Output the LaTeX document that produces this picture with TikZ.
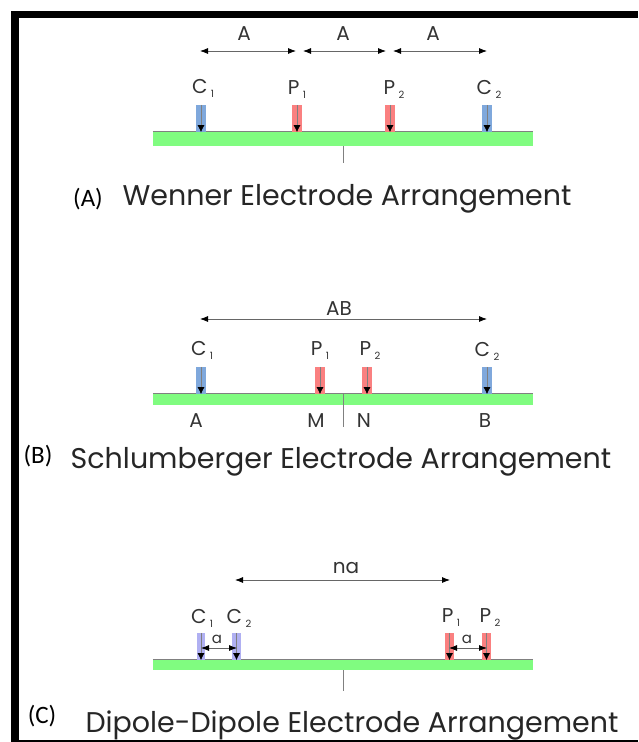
\documentclass[tikz,border=0pt]{standalone}
\usepackage{fontspec}
\setmainfont{Poppins}
\newfontfamily\tagfont{Carlito}
\usetikzlibrary{arrows.meta}
\definecolor{groundgreen}{HTML}{80FC80}
\definecolor{currentblue}{HTML}{7FA8DC}
\definecolor{dipoleblue}{HTML}{B0B0F2}
\definecolor{potentialred}{HTML}{FA8080}
\newcommand{\elab}[2]{#1\,\raisebox{-4pt}{\fontsize{10}{10}\selectfont #2}}
\tikzset{
  groundbar/.style={fill=groundgreen,minimum width=380pt,inner sep=0pt},
  electrode/.style={minimum width=9.5pt,minimum height=27pt,inner sep=0pt},
  stake/.style={draw=gray,line width=0.8pt,-{Latex[black,length=7pt,width=7pt]}},
  span/.style={draw=gray!80!black,line width=0.8pt,{Latex[black,length=8pt,width=6pt]}-{Latex[black,length=8pt,width=6pt]}},
  tick/.style={draw=gray,line width=0.9pt},
  topline/.style={draw=gray,line width=0.8pt},
  lab/.style={inner sep=0pt,font=\fontsize{20}{20}\selectfont,text=black!80},
  small lab/.style={lab,font=\fontsize{15}{15}\selectfont},
  caption/.style={inner sep=0pt,text=black!85,font=\fontsize{28.5}{28.5}\selectfont},
  tag/.style={inner sep=0pt,font=\tagfont\fontsize{25}{25}\selectfont,text=black}
}
\begin{document}
\begin{tikzpicture}[x=1pt,y=-1pt]
  \useasboundingbox (0,0) rectangle (638,742);
  % frame
  \fill[black] (11,11) rectangle (638,18);
  \fill[black] (11,11) rectangle (19,742);
  \fill[black] (11,740) rectangle (638,742);

  % Wenner
  \node[groundbar,minimum height=14pt] (bara) at (343,139) {};
  \draw[topline] (bara.north west) -- (bara.north east);
  \coordinate (ticka) at (343,163);
  \draw[tick] (bara.south -| ticka) -- (ticka);
  \node[electrode,fill=currentblue] (cia) at (201,118.5) {};
  \node[electrode,fill=potentialred] (pia) at (297,118.5) {};
  \node[electrode,fill=potentialred] (piia) at (390,118.5) {};
  \node[electrode,fill=currentblue] (ciia) at (487,118.5) {};
  \draw[stake] (cia.north) -- (cia.south);
  \draw[stake] (pia.north) -- (pia.south);
  \draw[stake] (piia.north) -- (piia.south);
  \draw[stake] (ciia.north) -- (ciia.south);
  \node[lab] (lcia) at (203,88) {\elab{C}{1}};
  \node[lab] (lpia) at (297,90) {\elab{P}{1}};
  \node[lab] (lpiia) at (394,90) {\elab{P}{2}};
  \node[lab] (lciia) at (489,89) {\elab{C}{2}};
  \coordinate (s1) at (200,51); \coordinate (s2) at (296,51);
  \coordinate (s3) at (303,51); \coordinate (s4) at (386,51);
  \coordinate (s5) at (393,51); \coordinate (s6) at (487,51);
  \draw[span] (s1) -- (s2);
  \draw[span] (s3) -- (s4);
  \draw[span] (s5) -- (s6);
  \node[lab] (aone) at (244,34) {A};
  \node[lab] (atwo) at (343,34) {A};
  \node[lab] (athree) at (433,34) {A};
  \node[tag] (taga) at (88,199) {(A)};
  \node[caption] (capa) at (347,199) {Wenner Electrode Arrangement};

  % Schlumberger
  \node[groundbar,minimum height=11pt] (barb) at (343,399.5) {};
  \draw[topline] (barb.north west) -- (barb.north east);
  \coordinate (tickbtop) at (343.5,394);
  \coordinate (tickb) at (343.5,427);
  \draw[tick] (tickbtop) -- (tickb);
  \node[electrode,fill=currentblue] (cib) at (201,380.5) {};
  \node[electrode,fill=potentialred] (pib) at (320,380.5) {};
  \node[electrode,fill=potentialred] (piib) at (367,380.5) {};
  \node[electrode,fill=currentblue] (ciib) at (487,380.5) {};
  \draw[stake] (cib.north) -- (cib.south);
  \draw[stake] (pib.north) -- (pib.south);
  \draw[stake] (piib.north) -- (piib.south);
  \draw[stake] (ciib.north) -- (ciib.south);
  \node[lab] (lcib) at (202,350) {\elab{C}{1}};
  \node[lab] (lpib) at (320,351) {\elab{P}{1}};
  \node[lab] (lpiib) at (370,351) {\elab{P}{2}};
  \node[lab] (lciib) at (487,351) {\elab{C}{2}};
  \node[lab] (ma) at (196,421) {A};
  \node[lab] (mm) at (316,421) {M};
  \node[lab] (mn) at (364,421) {N};
  \node[lab] (mb) at (485,421) {B};
  \coordinate (s7) at (200,319); \coordinate (s8) at (487,319);
  \draw[span] (s7) -- (s8);
  \node[lab] (ab) at (339,309) {AB};
  \node[tag] (tagb) at (38,456) {(B)};
  \node[caption] (capb) at (341,462) {Schlumberger Electrode Arrangement};

  % Dipole-Dipole
  \node[groundbar,minimum height=10pt] (barc) at (343,665) {};
  \draw[topline] (barc.north west) -- (barc.north east);
  \coordinate (tickc) at (343.5,691);
  \draw[tick] (barc.south -| tickc) -- (tickc);
  \node[electrode,minimum width=8.5pt,fill=dipoleblue] (cic) at (201,646.5) {};
  \node[electrode,minimum width=8.5pt,fill=dipoleblue] (ciic) at (236.5,646.5) {};
  \node[electrode,minimum width=8.5pt,fill=potentialred] (pic) at (449.5,646.5) {};
  \node[electrode,minimum width=8.5pt,fill=potentialred] (piic) at (486.5,646.5) {};
  \draw[stake] (cic.north) -- (cic.south);
  \draw[stake] (ciic.north) -- (ciic.south);
  \draw[stake] (pic.north) -- (pic.south);
  \draw[stake] (piic.north) -- (piic.south);
  \node[lab] (lcic) at (202,618) {\elab{C}{1}};
  \node[lab] (lciic) at (239,618) {\elab{C}{2}};
  \node[lab] (lpic) at (451,618) {\elab{P}{1}};
  \node[lab] (lpiic) at (490,618) {\elab{P}{2}};
  \coordinate (s9) at (235,580); \coordinate (s10) at (450,580);
  \draw[span] (s9) -- (s10);
  \node[lab] (na) at (346,568) {na};
  \coordinate (s11) at (201,648); \coordinate (s12) at (237,648);
  \coordinate (s13) at (449,648); \coordinate (s14) at (487,648);
  \draw[span] (s11) -- (s12);
  \draw[span] (s13) -- (s14);
  \node[small lab] (ac) at (217,639) {a};
  \node[small lab] (ap) at (467,639) {a};
  \node[tag] (tagc) at (42,716) {(C)};
  \node[caption] (capc) at (352,725) {Dipole-Dipole Electrode Arrangement};
\end{tikzpicture}
\end{document}
